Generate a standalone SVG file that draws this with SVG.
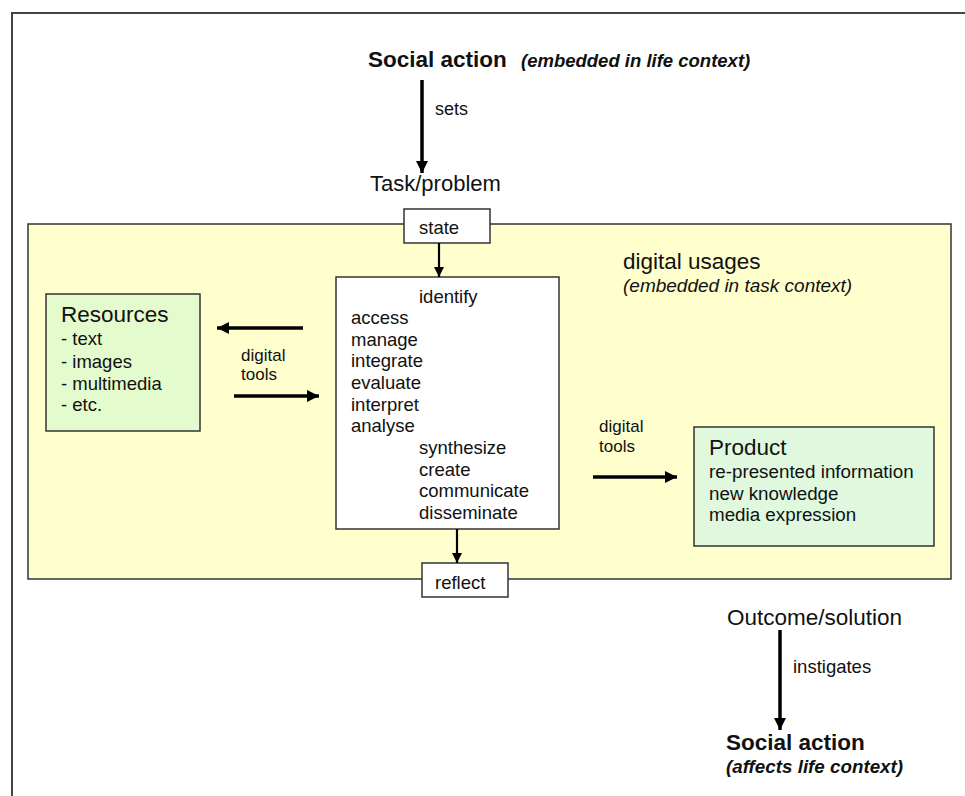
<svg xmlns="http://www.w3.org/2000/svg" width="965" height="796" viewBox="0 0 965 796">
<style>
text{font-family:"Liberation Sans",Arial,sans-serif;fill:#111}
.box{stroke:#333;stroke-width:1.5}
.b{font-size:18.5px}
.t{font-size:22.5px}
.s{font-size:17px}
.ln{stroke:#000;fill:none}
</style>
<defs>
<marker id="ah" viewBox="0 0 10 10" refX="10" refY="5" markerWidth="14" markerHeight="12" markerUnits="userSpaceOnUse" orient="auto"><path d="M0,0L10,5L0,10z" fill="#000"/></marker>
<marker id="ahs" viewBox="0 0 10 10" refX="10" refY="5" markerWidth="11" markerHeight="10" markerUnits="userSpaceOnUse" orient="auto"><path d="M0,0L10,5L0,10z" fill="#000"/></marker>
</defs>
<rect width="965" height="796" fill="#fff"/>
<path d="M12,796V13H965" fill="none" stroke="#444" stroke-width="2"/>

<g id="usages">
<rect class="box" x="28" y="224" width="923" height="355" fill="#FFFFCE"/>
<text x="623" y="269" class="t">digital usages</text>
<text x="623" y="292" style="font-size:19px;font-style:italic">(embedded in task context)</text>
</g>

<g id="social-top">
<text x="368" y="67" style="font-size:22.5px;font-weight:bold">Social action</text>
<text x="521" y="67" style="font-size:18.5px;font-weight:bold;font-style:italic">(embedded in life context)</text>
</g>
<g id="task">
<text x="370" y="191" style="font-size:22px">Task/problem</text>
</g>

<g id="state">
<rect class="box" x="404" y="209" width="86" height="34" fill="#fff"/>
<text x="419" y="234" class="b">state</text>
</g>

<g id="process">
<rect class="box" x="336" y="277" width="223" height="252" fill="#fff"/>
<text class="b">
<tspan x="419" y="303">identify</tspan>
<tspan x="351" y="324">access</tspan>
<tspan x="351" y="346">manage</tspan>
<tspan x="351" y="367">integrate</tspan>
<tspan x="351" y="389">evaluate</tspan>
<tspan x="351" y="411">interpret</tspan>
<tspan x="351" y="432">analyse</tspan>
<tspan x="419" y="454">synthesize</tspan>
<tspan x="419" y="476">create</tspan>
<tspan x="419" y="497">communicate</tspan>
<tspan x="419" y="519">disseminate</tspan>
</text>
</g>

<g id="reflect">
<rect class="box" x="422" y="563" width="86" height="34" fill="#fff"/>
<text x="435" y="589" class="b">reflect</text>
</g>

<g id="resources">
<rect class="box" x="46" y="294" width="154" height="137" fill="#E3FBCD"/>
<text x="61" y="322" class="t">Resources</text>
<text class="b">
<tspan x="61" y="345">- text</tspan>
<tspan x="61" y="368">- images</tspan>
<tspan x="61" y="390">- multimedia</tspan>
<tspan x="61" y="411">- etc.</tspan>
</text>
</g>

<g id="product">
<rect class="box" x="694" y="427" width="240" height="119" fill="#E0F9DE"/>
<text x="709" y="455" class="t">Product</text>
<text style="font-size:18.8px">
<tspan x="709" y="478">re-presented information</tspan>
<tspan x="709" y="500">new knowledge</tspan>
<tspan x="709" y="521">media expression</tspan>
</text>
</g>

<g id="outcome">
<text x="727" y="625" style="font-size:22.5px">Outcome/solution</text>
</g>
<g id="social-bottom">
<text x="726" y="750" style="font-size:22.5px;font-weight:bold">Social action</text>
<text x="726" y="773" style="font-size:18.8px;font-weight:bold;font-style:italic">(affects life context)</text>
</g>

<g id="connectors">
<line class="ln" x1="422" y1="80" x2="422" y2="173" stroke-width="3.5" marker-end="url(#ah)"/>
<text x="435" y="115" style="font-size:18px">sets</text>
<line class="ln" x1="439" y1="243" x2="439" y2="277" stroke-width="2.2" marker-end="url(#ahs)"/>
<line class="ln" x1="457" y1="529" x2="457" y2="563" stroke-width="2.2" marker-end="url(#ahs)"/>
<line class="ln" x1="303" y1="328" x2="217" y2="328" stroke-width="3.5" marker-end="url(#ah)"/>
<line class="ln" x1="234" y1="396" x2="319" y2="396" stroke-width="3.5" marker-end="url(#ah)"/>
<text class="s"><tspan x="241" y="361">digital</tspan><tspan x="241" y="380">tools</tspan></text>
<line class="ln" x1="593" y1="477" x2="677" y2="477" stroke-width="3.5" marker-end="url(#ah)"/>
<text class="s"><tspan x="599" y="432">digital</tspan><tspan x="599" y="452">tools</tspan></text>
<line class="ln" x1="780" y1="630" x2="780" y2="730" stroke-width="3.5" marker-end="url(#ah)"/>
<text x="793" y="673" style="font-size:18.5px">instigates</text>
</g>
</svg>
